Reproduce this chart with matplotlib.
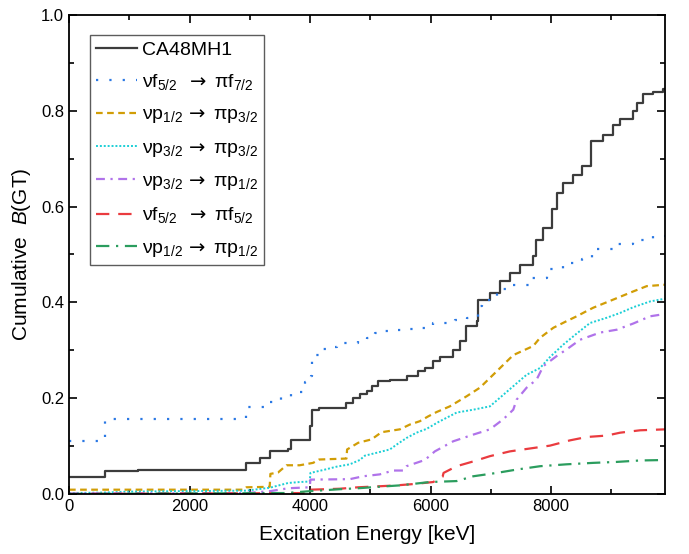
import matplotlib as mpl
mpl.use('Agg')
import matplotlib.pyplot as plt
from matplotlib.ticker import MultipleLocator

mpl.rcParams['font.family'] = ['Liberation Sans', 'DejaVu Sans']
mpl.rcParams['mathtext.fontset'] = 'custom'
mpl.rcParams['mathtext.rm'] = 'Liberation Sans'
mpl.rcParams['mathtext.it'] = 'Liberation Sans:italic'
mpl.rcParams['mathtext.sf'] = 'DejaVu Sans'

# values (energy in keV, cumulative B(GT))
total_x = [0, 590, 1140, 2943, 3164, 3342, 3636, 3691, 3995, 4040, 4150, 4604, 4714, 4826, 4937,
           5020, 5130, 5324, 5601, 5794, 5905, 6043, 6155, 6375, 6487, 6580, 6764, 6791, 6985, 7151,
           7317, 7483, 7704, 7749, 7871, 8010, 8093, 8203, 8369, 8508, 8658, 8668, 8868, 9034, 9145,
           9365, 9422, 9532, 9698, 9864, 9900]
total_y = [0.035, 0.047, 0.050, 0.065, 0.075, 0.089, 0.094, 0.113, 0.142, 0.175, 0.180, 0.190, 0.200,
           0.208, 0.215, 0.226, 0.236, 0.239, 0.247, 0.256, 0.263, 0.278, 0.287, 0.300, 0.319, 0.350,
           0.361, 0.406, 0.420, 0.444, 0.462, 0.479, 0.496, 0.531, 0.556, 0.594, 0.629, 0.650, 0.667,
           0.684, 0.705, 0.737, 0.750, 0.771, 0.782, 0.799, 0.817, 0.835, 0.839, 0.846, 0.847]

f52_f72_x = [0, 590, 2943, 3275, 3524, 3691, 3912, 4023, 4040, 4150, 4327, 4449, 4631, 4797, 4953,
             5075, 5224, 5418, 5590, 5767, 5934, 6043, 6404, 6598, 6791, 6847, 7096, 7372, 7678,
             7927, 8203, 8508, 8675, 8757, 9061, 9365, 9698, 9900]
f52_f72_y = [0.110, 0.156, 0.182, 0.193, 0.203, 0.213, 0.234, 0.247, 0.291, 0.303, 0.306, 0.315,
             0.316, 0.320, 0.325, 0.336, 0.341, 0.342, 0.344, 0.346, 0.350, 0.357, 0.364, 0.368,
             0.392, 0.406, 0.427, 0.437, 0.451, 0.469, 0.483, 0.491, 0.504, 0.512, 0.522, 0.531,
             0.538, 0.542]

p12_p32_x = [0, 2900, 2943, 3330, 3342, 3470, 3608, 3829, 4050, 4150, 4604, 4615, 4800, 5020, 5186,
             5490, 5656, 5822, 5960, 6098, 6320, 6598, 6819, 7096, 7372, 7704, 7816, 8037, 8259,
             8425, 8591, 8701, 9034, 9365, 9588, 9900]
p12_p32_y = [0.009, 0.009, 0.014, 0.015, 0.042, 0.045, 0.060, 0.060, 0.065, 0.072, 0.074, 0.093,
             0.107, 0.114, 0.129, 0.135, 0.145, 0.152, 0.162, 0.171, 0.183, 0.204, 0.222, 0.256,
             0.290, 0.309, 0.326, 0.347, 0.361, 0.371, 0.382, 0.389, 0.406, 0.423, 0.434, 0.437]

p32_p32_x = [0, 590, 1000, 2943, 3330, 3636, 3829, 3995, 4006, 4216, 4438, 4660, 4826, 4909, 5103,
             5324, 5435, 5601, 5767, 5934, 6126, 6432, 6708, 6985, 7151, 7372, 7594, 7816, 7982,
             8203, 8425, 8646, 8924, 9145, 9365, 9643, 9900]
p32_p32_y = [0.002, 0.003, 0.005, 0.007, 0.013, 0.023, 0.025, 0.026, 0.044, 0.050, 0.057, 0.062,
             0.071, 0.080, 0.086, 0.093, 0.103, 0.117, 0.128, 0.136, 0.150, 0.170, 0.176, 0.183,
             0.201, 0.225, 0.249, 0.263, 0.286, 0.312, 0.335, 0.357, 0.368, 0.378, 0.390, 0.402,
             0.408]

p32_p12_x = [0, 2943, 3342, 3636, 3995, 4006, 4660, 4881, 5158, 5380, 5545, 5600, 5905, 6071, 6375,
             6708, 6985, 7206, 7372, 7428, 7594, 7760, 7871, 8093, 8259, 8480, 8812, 9090, 9365,
             9643, 9900]
p32_p12_y = [0.001, 0.002, 0.006, 0.012, 0.014, 0.030, 0.031, 0.037, 0.041, 0.049, 0.049, 0.058,
             0.071, 0.089, 0.110, 0.124, 0.135, 0.156, 0.176, 0.197, 0.222, 0.239, 0.267, 0.288,
             0.302, 0.322, 0.337, 0.343, 0.356, 0.371, 0.376]

f52_f52_x = [0, 3995, 4006, 4493, 4797, 5130, 5435, 5739, 6043, 6200, 6215, 6432, 6708, 6985, 7317,
             7704, 7982, 8314, 8591, 8924, 9145, 9477, 9900]
f52_f52_y = [0.0, 0.002, 0.009, 0.011, 0.014, 0.016, 0.018, 0.021, 0.025, 0.036, 0.044, 0.058,
             0.068, 0.079, 0.089, 0.096, 0.101, 0.112, 0.119, 0.122, 0.128, 0.133, 0.135]

p12_p12_x = [0, 3600, 4006, 4493, 4797, 5130, 5490, 5988, 6432, 6708, 7096, 7428, 7816, 8259, 8701,
             9090, 9477, 9900]
p12_p12_y = [0.0, 0.002, 0.006, 0.010, 0.012, 0.015, 0.018, 0.025, 0.027, 0.037, 0.044, 0.051,
             0.058, 0.062, 0.065, 0.067, 0.070, 0.071]

arrow_p = r'$\,\mathsf{\rightarrow}$ '
arrow_f = r'$\;\;\mathsf{\rightarrow}$ '

fig = plt.figure(figsize=(6.89, 5.54), dpi=100)
ax = fig.add_axes([69 / 689, 1 - 494 / 554, (665 - 69) / 689, (494 - 15) / 554])

ax.plot(total_x, total_y, color='#3c3c3c', lw=1.6, drawstyle='steps-post', label='CA48MH1')
ax.plot(f52_f72_x, f52_f72_y, color='#2a78e4', lw=1.6, ls=(0, (1, 5)), drawstyle='steps-post',
        label=r'νf$_{5/2}$' + arrow_f + r'πf$_{7/2}$')
ax.plot(p12_p32_x, p12_p32_y, color='#d19d06', lw=1.6, ls=(0, (3, 2)),
        label=r'νp$_{1/2}$' + arrow_p + r'πp$_{3/2}$')
ax.plot(p32_p32_x, p32_p32_y, color='#1ccfd6', lw=1.4, ls=(0, (1, 1)),
        label=r'νp$_{3/2}$' + arrow_p + r'πp$_{3/2}$')
ax.plot(p32_p12_x, p32_p12_y, color='#b073ea', lw=1.6, ls=(0, (4, 2.5, 1, 2.5)),
        label=r'νp$_{3/2}$' + arrow_p + r'πp$_{1/2}$')
ax.plot(f52_f52_x, f52_f52_y, color='#ea3b3f', lw=1.6, ls=(0, (6, 4)),
        label=r'νf$_{5/2}$' + arrow_f + r'πf$_{5/2}$')
ax.plot(p12_p12_x, p12_p12_y, color='#2b9d5e', lw=1.6, ls=(0, (6, 3, 1, 3)),
        label=r'νp$_{1/2}$' + arrow_p + r'πp$_{1/2}$')

ax.set_xlim(0, 9890)
ax.set_ylim(0, 1.0)
ax.xaxis.set_major_locator(MultipleLocator(2000))
ax.xaxis.set_minor_locator(MultipleLocator(1000))
ax.yaxis.set_major_locator(MultipleLocator(0.2))
ax.yaxis.set_minor_locator(MultipleLocator(0.1))
ax.tick_params(which='both', direction='in', top=True, right=True, labelsize=12, width=1.2)
ax.tick_params(which='major', length=6)
ax.tick_params(which='minor', length=3.5)
for s in ax.spines.values():
    s.set_linewidth(1.3)

ax.set_xlabel('Excitation Energy [keV]', fontsize=15, labelpad=8)
ax.set_ylabel(r'Cumulative  $\it{B}$(GT)', fontsize=15, labelpad=6)

leg = ax.legend(loc='upper left', bbox_to_anchor=(0.035, 0.958), fontsize=14, frameon=True,
                fancybox=False, edgecolor='#333333', handlelength=2.1, handletextpad=0.3,
                labelspacing=0.7, borderpad=0.3, borderaxespad=0)
leg.get_frame().set_linewidth(1.0)

fig.savefig('out.png', dpi=100)
